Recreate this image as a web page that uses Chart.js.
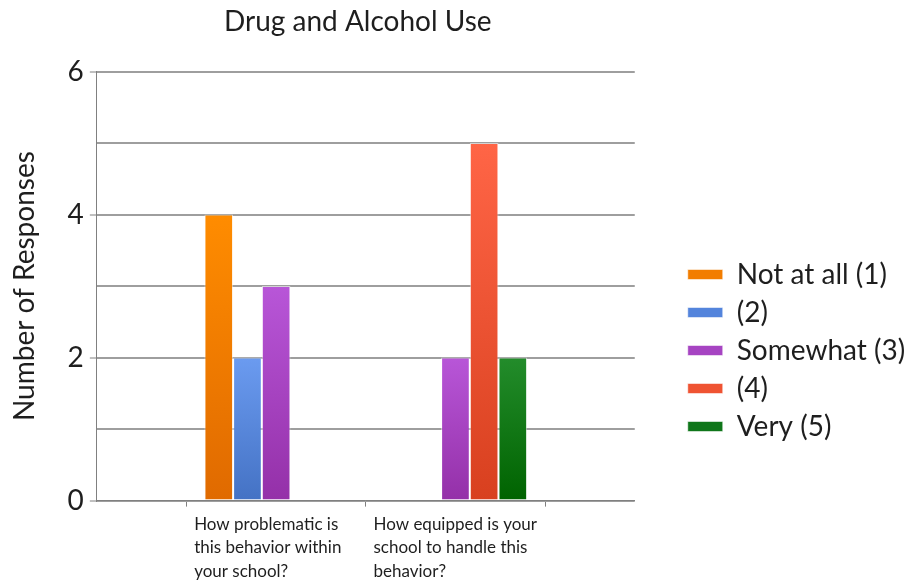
<!DOCTYPE html>
<html>
<head>
<meta charset="utf-8">
<script src="https://cdn.jsdelivr.net/npm/chart.js@4.4.1/dist/chart.umd.min.js"></script>
<style>
  html, body { margin: 0; padding: 0; background: #fff; }
</style>
</head>
<body>
<canvas id="myChart" width="916" height="583"></canvas>
<script>
// question labels (already wrapped the way the picture shows them)
const questions = [
    ['How problematic is', 'this behavior within', 'your school?'],
    ['How equipped is your', 'school to handle this', 'behavior?']
];
const seriesNames = ['Not at all (1)', '(2)', 'Somewhat (3)', '(4)', 'Very (5)'];

// responses per question
const notAtAll = [4, 0];
const two = [2, 0];
const somewhat = [3, 2];
const four = [0, 5];
const very = [0, 2];

const yLabelTicks = [0, 2, 4, 6];

// styles
const topColors = ['#ff8c00', '#6b9bf0', '#b856d8', '#ff6546', '#238c2b'];
const bottomColors = ['#e06a00', '#4472c4', '#9430a8', '#d8401f', '#006300'];
const legendColors = ['#f27d00', '#5384dc', '#a644c2', '#ef5332', '#0f761a'];

const FONT = 'Lato, "Open Sans", sans-serif';

// bars get a vertical gradient from their own top down to zero
function barFill(i) {
    return (ctx) => {
        const chart = ctx.chart;
        if (ctx.type !== 'data' || !chart.chartArea || ctx.parsed == null || ctx.parsed.y == null) {
            return legendColors[i];
        }
        const y = chart.scales.y;
        const g = chart.ctx.createLinearGradient(0, y.getPixelForValue(ctx.parsed.y), 0, y.getPixelForValue(0));
        g.addColorStop(0, topColors[i]);
        g.addColorStop(1, bottomColors[i]);
        return g;
    };
}

// legend sits lower and further right than chart.js puts it, title a bit left
const layoutTweak = {
    id: 'layoutTweak',
    afterLayout(chart) {
        const lg = chart.legend;
        lg.left += 43;
        lg.right = chart.width;
        lg.top += 56; lg.bottom += 56;
        chart.titleBlock.left -= 16;
    }
};

// empty slots at both ends so the questions fall on the inner tick marks
const labels = ['', ...questions, ''];
const pad = (arr) => [null, ...arr, null];

const seriesValues = [notAtAll, two, somewhat, four, very];

new Chart(document.getElementById('myChart').getContext('2d'), {
    type: 'bar',
    data: {
        labels: labels,
        datasets: seriesValues.map((vals, i) => ({
            label: seriesNames[i],
            data: pad(vals),
            backgroundColor: barFill(i),
            borderColor: 'rgba(255,255,255,0.55)',
            borderWidth: 1,
            categoryPercentage: 0.8,
            barPercentage: 1.0
        }))
    },
    options: {
        responsive: false,
        animation: false,
        layout: { padding: { left: 7, right: 72, top: 0, bottom: -6 } },
        scales: {
            x: {
                offset: false,
                grid: { display: true, drawOnChartArea: false, tickLength: 6, color: '#808080' },
                border: { color: '#808080' },
                ticks: {
                    autoSkip: false,
                    minRotation: 0,
                    maxRotation: 0,
                    align: 'start',
                    labelOffset: -82,
                    padding: 6,
                    color: '#1e1e1e',
                    font: { family: FONT, size: 17, lineHeight: 1.38 }
                }
            },
            y: {
                min: 0,
                max: 6,
                ticks: {
                    stepSize: 1,
                    padding: 6,
                    color: '#1e1e1e',
                    font: { family: FONT, size: 28 },
                    callback: (v) => yLabelTicks.includes(v) ? v : ''
                },
                grid: {
                    color: '#9e9e9e',
                    lineWidth: 2,
                    tickLength: 7,
                    tickWidth: 1,
                    tickColor: (c) => (c.tick && yLabelTicks.includes(c.tick.value)) ? '#808080' : 'rgba(0,0,0,0)'
                },
                border: { color: '#808080' },
                title: {
                    display: true,
                    text: 'Number of Responses',
                    color: '#1e1e1e',
                    font: { family: FONT, size: 28 },
                    padding: { top: 1, bottom: 20 }
                }
            }
        },
        plugins: {
            title: {
                display: true,
                fullSize: false,
                text: 'Drug and Alcohol Use',
                color: '#1e1e1e',
                font: { family: FONT, size: 28, weight: 'normal' },
                padding: { top: 5, bottom: 33 }
            },
            legend: {
                position: 'right',
                labels: {
                    boxWidth: 35,
                    boxHeight: 10,
                    padding: 10,
                    color: '#1e1e1e',
                    font: { family: FONT, size: 28 }
                }
            },
            tooltip: { enabled: false }
        }
    },
    plugins: [layoutTweak]
});
</script>
</body>
</html>
